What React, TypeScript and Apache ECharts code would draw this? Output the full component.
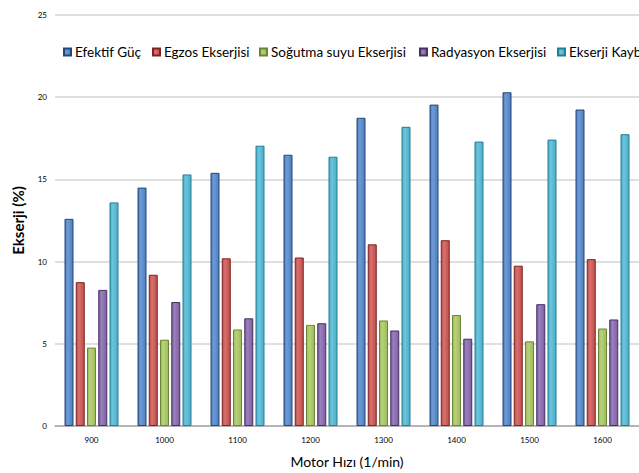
import React, { useEffect, useRef } from "react";
import * as echarts from "echarts";

const categories = ["900", "1000", "1100", "1200", "1300", "1400", "1500", "1600"];
const seriesNames = ["Efektif Güç", "Egzos Ekserjisi", "Soğutma suyu Ekserjisi", "Radyasyon Ekserjisi", "Ekserji Kaybı"];
const efektif = [12.6, 14.5, 15.4, 16.5, 18.75, 19.55, 20.3, 19.25];
const egzos = [8.75, 9.2, 10.2, 10.25, 11.05, 11.3, 9.75, 10.15];
const sogutma = [4.77, 5.25, 5.87, 6.15, 6.42, 6.75, 5.15, 5.93];
const radyasyon = [8.28, 7.54, 6.55, 6.25, 5.81, 5.31, 7.41, 6.48];
const kayip = [13.6, 15.3, 17.05, 16.38, 18.2, 17.3, 17.42, 17.75];
const yTicks = [0, 5, 10, 15, 20, 25];

const palette = [
  { light: "#6f9bd6", base: "#4a7ebb", dark: "#24467a" },
  { light: "#d8716e", base: "#be4b48", dark: "#7e2422" },
  { light: "#b7d27a", base: "#9bbb59", dark: "#6a8636" },
  { light: "#9a7fbd", base: "#7d5fa0", dark: "#45305f" },
  { light: "#6cc5dc", base: "#4bacc6", dark: "#227f98" },
];
const legendLefts = [63, 152, 259, 419, 557];

const dataSets = [efektif, egzos, sogutma, radyasyon, kayip];
const FONT = "Lato, 'Open Sans', sans-serif";

export default function App() {
  const ref = useRef<HTMLDivElement>(null);
  useEffect(() => {
    if (!ref.current) return;
    const chart = echarts.init(ref.current, undefined, { renderer: "svg" });
    chart.setOption({
      animation: false,
      backgroundColor: "#ffffff",
      legend: seriesNames.map((name, i) => ({
        left: legendLefts[i],
        top: 45,
        padding: 0,
        width: 300,
        itemWidth: 7,
        itemHeight: 7,
        icon: "rect",
        textStyle: { fontFamily: FONT, fontSize: 13.5, color: "#000", padding: [0, 0, 0, -1] },
        data: [name],
      })),
      grid: { left: 55, right: -11, top: 15, bottom: 43, containLabel: false },
      xAxis: {
        type: "category",
        data: categories,
        name: "Motor Hızı (1/min)",
        nameLocation: "middle",
        nameGap: 28,
        nameTextStyle: { fontFamily: FONT, fontSize: 14, color: "#000" },
        axisLine: { lineStyle: { color: "#a6a6a6", width: 1.5 } },
        axisTick: { show: false },
        axisLabel: { fontFamily: FONT, fontSize: 8, color: "#000", margin: 10 },
      },
      yAxis: {
        type: "value",
        min: yTicks[0],
        max: yTicks[yTicks.length - 1],
        interval: 5,
        name: "Ekserji (%)",
        nameLocation: "middle",
        nameGap: 30,
        nameTextStyle: { fontFamily: FONT, fontSize: 15, fontWeight: "bold", color: "#000" },
        axisLine: { show: false },
        axisTick: { show: false },
        axisLabel: { fontFamily: FONT, fontSize: 8, color: "#000", margin: 8 },
        splitLine: { lineStyle: { color: "#d4d4d4", width: 1.5 } },
      },
      series: seriesNames.map((name, i) => ({
        name,
        type: "bar",
        data: dataSets[i],
        barWidth: 9,
        barGap: "25%",
        itemStyle: {
          color: new echarts.graphic.LinearGradient(0, 0, 1, 0, [
            { offset: 0, color: palette[i].base },
            { offset: 0.35, color: palette[i].light },
            { offset: 1, color: palette[i].base },
          ]),
          borderColor: palette[i].dark,
          borderWidth: 1,
        },
        emphasis: { disabled: true },
      })),
      color: palette.map((p) => p.base),
    });
    return () => chart.dispose();
  }, []);
  return (
    <div
      ref={ref}
      style={{ position: "fixed", left: 0, top: 0, width: 639, height: 473, overflow: "hidden" }}
    />
  );
}
